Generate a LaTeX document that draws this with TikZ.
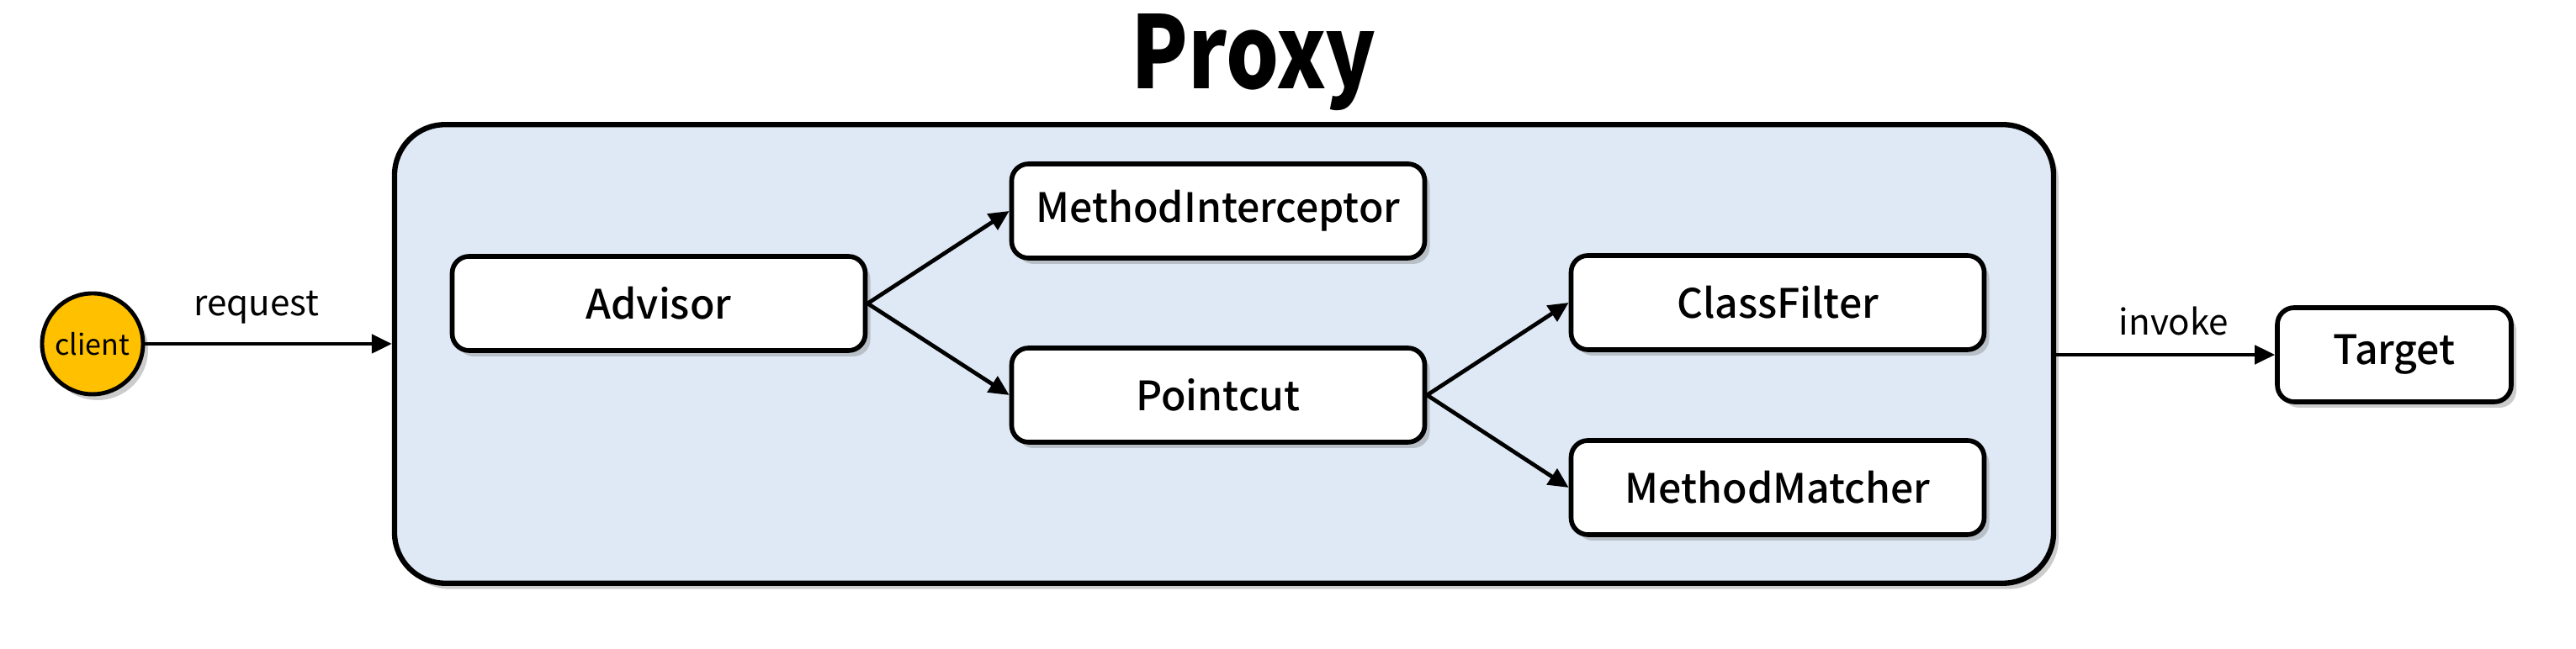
\documentclass[tikz,border=0pt]{standalone}
\usepackage{fontspec}
\usepackage{graphicx}
\setmainfont{Noto Sans CJK KR}
\newfontfamily\medfont{Noto Sans CJK KR}[UprightFont=* Medium]
\usetikzlibrary{arrows.meta,shadows}
\definecolor{proxyfill}{HTML}{DEE9F5}
\definecolor{clientfill}{HTML}{FFC000}
\begin{document}
\begin{tikzpicture}[
  shd/.style={drop shadow={opacity=0.4,shadow xshift=0.06cm,shadow yshift=-0.07cm}},
  box/.style={draw=black,line width=1.6pt,fill=white,rounded corners=0.2cm,
    minimum width=4.91cm,minimum height=1.12cm,inner sep=0pt,shd,
    font=\medfont\fontsize{13.7}{16}\selectfont},
  conn/.style={line width=1.35pt,-{Triangle[length=0.24cm,width=0.22cm]}},
  lbl/.style={font=\fontsize{12}{14}\selectfont,inner sep=0pt,anchor=base}
]
\useasboundingbox (0,0) rectangle (30.62,7.72);
\node[draw=black,line width=1.8pt,fill=proxyfill,rounded corners=0.6cm,shd,
  minimum width=19.72cm,minimum height=5.455cm,inner sep=0pt] (proxy) at (14.55,3.51) {};
\node[font=\fontsize{34}{40}\selectfont\bfseries,inner sep=0pt,anchor=base] (title) at (14.90,6.66) {\scalebox{0.83}[1]{Proxy}};
\node[circle,draw=black,line width=1.4pt,fill=clientfill,minimum size=1.2cm,inner sep=0pt,shd,
  font=\fontsize{9.7}{11}\selectfont] (client) at (1.10,3.63) {client};
\node[box] (advisor) at (7.83,4.11) {Advisor};
\node[box] (mi) at (14.48,5.21) {MethodInterceptor};
\node[box] (pc) at (14.48,3.02) {Pointcut};
\node[box] (cf) at (21.13,4.12) {ClassFilter};
\node[box] (mm) at (21.13,1.92) {MethodMatcher};
\node[box,minimum width=2.78cm] (target) at (28.46,3.50) {Target};
\draw[conn] (client.east) -- (client.east -| proxy.west);
\node[lbl] (req) at (3.05,3.96) {request};
\draw[conn] (target.west -| proxy.east) -- (target.west);
\node[lbl] (inv) at (25.84,3.73) {invoke};
\draw[conn] (advisor.east) -- (mi.west);
\draw[conn] (advisor.east) -- (pc.west);
\draw[conn] (pc.east) -- (cf.west);
\draw[conn] (pc.east) -- (mm.west);
\end{tikzpicture}
\end{document}
